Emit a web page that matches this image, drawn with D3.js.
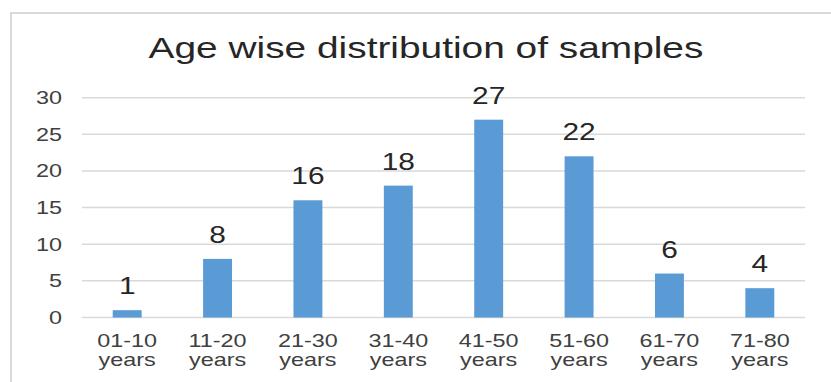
<!DOCTYPE html>
<html><head><meta charset="utf-8">
<script src="https://cdn.jsdelivr.net/npm/d3@7"></script>
<style>body{margin:0;background:#fff;}svg{display:block;}</style>
</head><body><div id="chart"></div>
<script>
const categories = ["01-10 years","11-20 years","21-30 years","31-40 years","41-50 years","51-60 years","61-70 years","71-80 years"];
const values = [1, 8, 16, 18, 27, 22, 6, 4];
const yTicks = [0, 5, 10, 15, 20, 25, 30];
const title = "Age wise distribution of samples";

const W = 831, H = 382;
const SX = 1.3;
const svg = d3.select("#chart").append("svg").attr("width", W).attr("height", H);
const font = "'Liberation Sans', Arial, sans-serif";

// frame
svg.append("path").attr("d", `M11,${H+5}V13H${W+5}`).attr("fill","none").attr("stroke","#d9d9d9").attr("stroke-width",2);

const x = d3.scaleBand().domain(categories).range([82, 805]).paddingInner(0.68).paddingOuter(0.34);
const y = d3.scaleLinear().domain([0, 30]).range([317.5, 97.7]);

// gridlines
svg.append("g").selectAll("line").data(yTicks).join("line")
  .attr("x1", 82).attr("x2", 805)
  .attr("y1", d => y(d)).attr("y2", d => y(d))
  .attr("stroke", "#d9d9d9").attr("stroke-width", 1.5);

// y labels
svg.append("g").selectAll("text").data(yTicks).join("text")
  .attr("transform", d => `translate(62,${y(d)+6.5}) scale(${SX},1)`)
  .attr("text-anchor","end").attr("font-family",font).attr("font-size",18).attr("fill","#404040")
  .text(d => d);

// bars
svg.append("g").selectAll("rect").data(values).join("rect")
  .attr("x", (d,i) => x(categories[i])).attr("width", x.bandwidth())
  .attr("y", d => y(d)).attr("height", d => y(0) - y(d))
  .attr("fill", "#5b9bd5");

// value labels
svg.append("g").selectAll("text").data(values).join("text")
  .attr("transform", (d,i) => `translate(${x(categories[i]) + x.bandwidth()/2},${y(d)-16}) scale(${SX},1)`)
  .attr("text-anchor","middle").attr("font-family",font).attr("font-size",23).attr("fill","#262626")
  .text(d => d);

// x labels: two lines, each its own text element
const xg = svg.append("g");
categories.forEach(c => {
  c.split(" ").forEach((p, i) => {
    xg.append("text")
      .attr("transform", `translate(${x(c) + x.bandwidth()/2},${346.5 + i*19}) scale(1.3,1)`)
      .attr("text-anchor","middle").attr("font-family",font).attr("font-size",18).attr("fill","#404040")
      .text(p);
  });
});

// title
svg.append("text").attr("transform", `translate(426,58) scale(1.34,1)`)
  .attr("text-anchor","middle").attr("font-family",font).attr("font-size",29).attr("fill","#262626")
  .text(title);
</script></body></html>
